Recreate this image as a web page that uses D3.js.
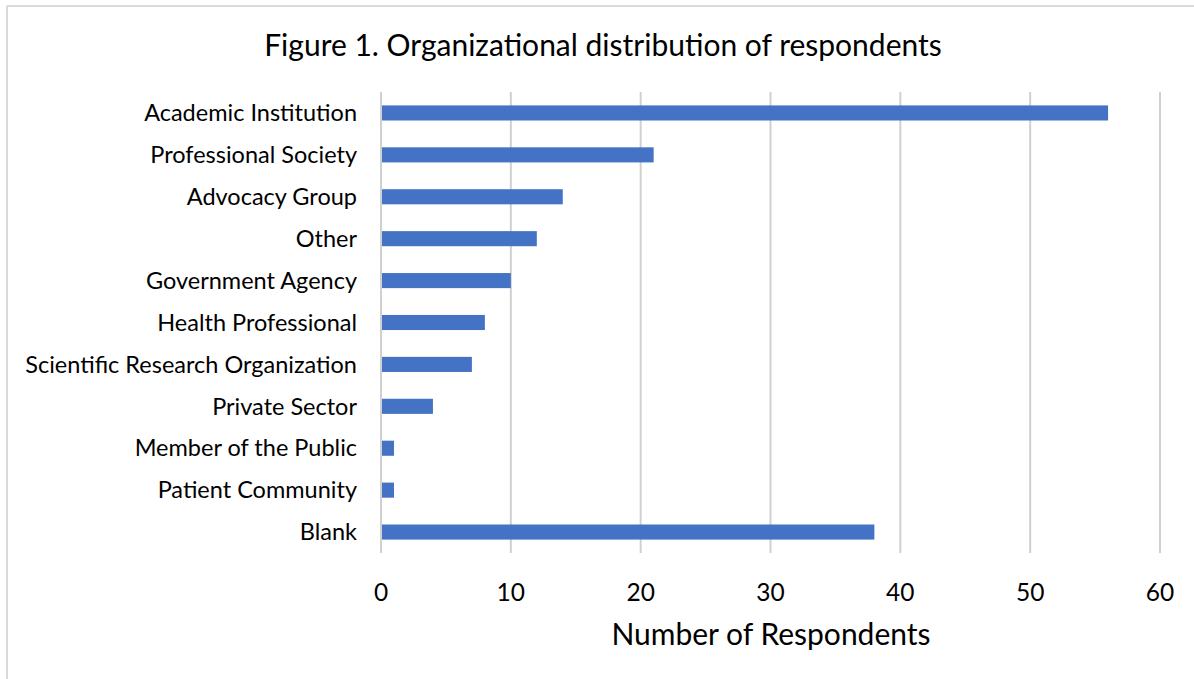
<!DOCTYPE html>
<html><head><meta charset="utf-8">
<script src="https://cdn.jsdelivr.net/npm/d3@7"></script>
<style>body{margin:0;background:#fff}svg{display:block}text{font-family:Lato,"Open Sans",sans-serif;fill:#000}</style>
</head><body>
<svg id="c" width="1194" height="679"></svg>
<script>
const categories = ["Academic Institution","Professional Society","Advocacy Group","Other","Government Agency","Health Professional","Scientific Research Organization","Private Sector","Member of the Public","Patient Community","Blank"];
const values = [56,21,14,12,10,8,7,4,1,1,38];
const tickValues = [0,10,20,30,40,50,60];
const title = "Figure 1. Organizational distribution of respondents";
const xTitle = "Number of Respondents";

const svg = d3.select("#c");
svg.append("line").attr("x1",7).attr("x2",7).attr("y1",6).attr("y2",679).attr("stroke","#d9d9d9").attr("stroke-width",2);
svg.append("line").attr("x1",7).attr("x2",1194).attr("y1",6).attr("y2",6).attr("stroke","#d9d9d9").attr("stroke-width",2);

const x = d3.scaleLinear().domain([0,60]).range([381,1160]);
const y = d3.scaleBand().domain(categories).range([92,553]).paddingInner(0.64).paddingOuter(0.32);

svg.append("g").selectAll("line").data(tickValues).join("line")
  .attr("x1",d=>x(d)).attr("x2",d=>x(d)).attr("y1",92).attr("y2",553)
  .attr("stroke","#d0d0d0").attr("stroke-width",2);

svg.append("g").selectAll("rect").data(values).join("rect")
  .attr("x",x(0)+1).attr("y",(d,i)=>y(categories[i]))
  .attr("width",d=>x(d)-x(0)-1).attr("height",y.bandwidth())
  .attr("fill","#4472c4");

svg.append("g").selectAll("text").data(categories).join("text")
  .attr("x",357).attr("y",d=>y(d)+y.bandwidth()/2).attr("dy","0.35em")
  .attr("text-anchor","end").style("font-size","23.5px").text(d=>d);

svg.append("g").selectAll("text").data(tickValues).join("text")
  .attr("x",d=>x(d)).attr("y",592).attr("dy","0.35em")
  .attr("text-anchor","middle").style("font-size","24.5px").text(d=>d);

svg.append("text").attr("x",603).attr("y",45).attr("dy","0.35em").attr("text-anchor","middle")
  .style("font-size","30px").text(title);
svg.append("text").attr("x",771).attr("y",634).attr("dy","0.35em").attr("text-anchor","middle")
  .style("font-size","30px").text(xTitle);
</script>
</body></html>
